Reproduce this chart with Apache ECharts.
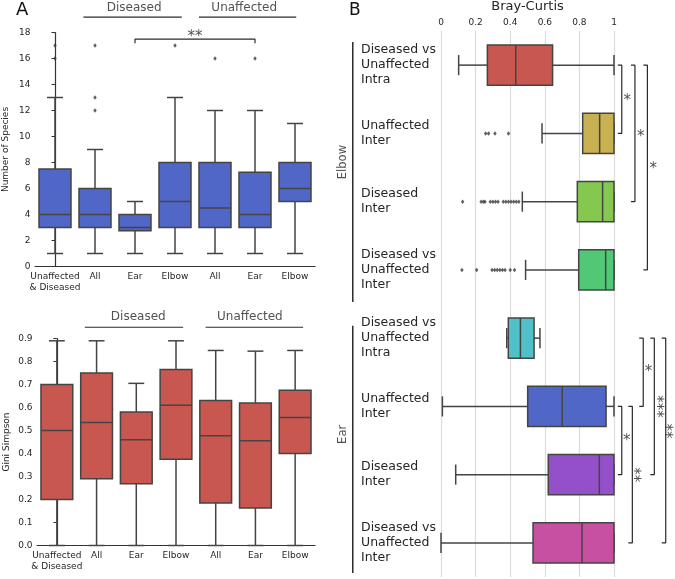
<!DOCTYPE html>
<html><head><meta charset="utf-8">
<script src="https://cdn.jsdelivr.net/npm/echarts@6/dist/echarts.min.js"></script>
<style>html,body{margin:0;padding:0;background:#fff}#c{width:675px;height:579px}</style>
</head><body><div id="c"></div><script>
// ---------------- DATA ----------------
// Panel A (top): Number of Species
const speciesCats = ['Unaffected & Diseased','Diseased All','Diseased Ear','Diseased Elbow','Unaffected All','Unaffected Ear','Unaffected Elbow'];
const tickLabelsA = ['Unaffected\n& Diseased','All','Ear','Elbow','All','Ear','Elbow'];
const speciesMin    = [1, 1, 1,    1, 1,   1,    1];
const speciesQ1     = [3, 3, 2.75, 3, 3,   3,    5];
const speciesMedian = [4, 4, 3,    5, 4.5, 4,    6];
const speciesQ3     = [7.5, 6, 4,  8, 8,   7.25, 8];
const speciesMax    = [13, 9, 5,  13, 12,  12,   11];
const speciesOutliers = [[0,16],[0,17],[1,12],[1,13],[1,17],[3,17],[4,16],[5,16]];

// Panel A (bottom): Gini Simpson
const giniMin    = [0, 0, 0, 0, 0, 0, 0];
const giniQ1     = [0.20, 0.29, 0.268, 0.375, 0.185, 0.163, 0.40];
const giniMedian = [0.50, 0.535, 0.46, 0.61, 0.477, 0.455, 0.557];
const giniQ3     = [0.70, 0.75, 0.58, 0.765, 0.63, 0.62, 0.675];
const giniMax    = [0.89, 0.89, 0.705, 0.89, 0.848, 0.845, 0.848];

// group headers
const groupNames = ['Diseased', 'Unaffected'];
const speciesSig = [{from: 2, to: 5, stars: '**'}];

// Panel B: Bray-Curtis
const brayCats = ['Elbow DvU Intra','Elbow Unaffected Inter','Elbow Diseased Inter','Elbow DvU Inter',
                  'Ear DvU Intra','Ear Unaffected Inter','Ear Diseased Inter','Ear DvU Inter'];
const brayLabels = ['Diseased vs\nUnaffected\nIntra','Unaffected\nInter','Diseased\nInter','Diseased vs\nUnaffected\nInter',
                    'Diseased vs\nUnaffected\nIntra','Unaffected\nInter','Diseased\nInter','Diseased vs\nUnaffected\nInter'];
const brayGroups = ['Elbow', 'Ear'];
const brayMin    = [0.102, 0.584, 0.470, 0.489, 0.380, 0.008, 0.085, 0.0];
const brayQ1     = [0.268, 0.819, 0.788, 0.796, 0.389, 0.501, 0.620, 0.532];
const brayMedian = [0.432, 0.917, 0.934, 0.952, 0.459, 0.701, 0.915, 0.815];
const brayQ3     = [0.645, 1.0,   1.0,   1.0,   0.538, 0.954, 1.0,   1.0];
const brayMax    = [1.0,   1.0,   1.0,   1.0,   0.572, 1.0,   1.0,   1.0];
const brayOutliers = [
  [1,0.258],[1,0.275],[1,0.312],[1,0.39],
  [2,0.125],[2,0.232],[2,0.245],[2,0.254],[2,0.285],[2,0.30],[2,0.315],[2,0.33],[2,0.36],[2,0.375],[2,0.39],[2,0.405],[2,0.42],[2,0.435],[2,0.45],
  [3,0.121],[3,0.206],[3,0.295],[3,0.31],[3,0.325],[3,0.34],[3,0.355],[3,0.37],[3,0.40],[3,0.425]
];
const braySig = [
  {from:0,to:1,stars:'*'},{from:0,to:2,stars:'*'},{from:0,to:3,stars:'*'},
  {from:4,to:5,stars:'*'},{from:5,to:6,stars:'*'},{from:5,to:7,stars:'**'},{from:4,to:6,stars:'***'},{from:4,to:7,stars:'**'}
];

// ---------------- LAYOUT / STYLE ----------------
const FONT = 'DejaVu Sans';
const TXT = '#262626';
const EDGE = '#444444';
const AX = '#333333';
const BLUE = '#5067C8';
const RED = '#C85750';
const BRAY_COLORS = ['#C85750','#C8B150','#85C850','#50C875','#50C1C8','#5067C8','#9350C8','#C850A3'];
const STAR_SIZE = 15;

const headTop = [{from:0.71,to:3.17,c:1.98},{from:3.6,to:6.03,c:4.73}];
const headTopY = {line:19.18, text:19.92};
const headBot = [{from:0.705,to:3.18,c:2.05},{from:3.745,to:6.2,c:4.86}];
const headBotY = {line:0.949, text:0.992};
const sigTopLayout = [{y:17.49, tick:17.18, sy:17.68}];
// panel B annotation layer uses the Bray-Curtis scale extended on both sides
const B_LEFT = 441, B_UNIT = 173, B_EXT_MIN = -0.64, B_EXT_MAX = 1.36;
const braySigLayout = [
  {x:1.045, sx:1.077, sy:0.52, rot:0},
  {x:1.121, sx:1.154, sy:1.06, rot:0},
  {x:1.193, sx:1.227, sy:1.52, rot:0},
  {x:1.169, sx:1.200, sy:4.50, rot:0},
  {x:1.045, sx:1.073, sy:5.51, rot:0},
  {x:1.106, sx:1.160, sy:6.00, rot:90},
  {x:1.233, sx:1.293, sy:5.00, rot:90},
  {x:1.299, sx:1.350, sy:5.36, rot:90}
];
const brayGroupLayout = [{y0:-0.337, y1:3.47, ty:1.42}, {y0:3.82, y1:7.44, ty:5.41}];
const brayGroupX = {line:-0.510, text:-0.564};

// ---------------- BUILD ----------------
const rows = (mn,q1,md,q3,mx) => mn.map((v,i)=>[i, mn[i], q1[i], md[i], q3[i], mx[i]]);
const speciesRows = rows(speciesMin, speciesQ1, speciesMedian, speciesQ3, speciesMax);
const giniRows = rows(giniMin, giniQ1, giniMedian, giniQ3, giniMax);
const brayRows = rows(brayMin, brayQ1, brayMedian, brayQ3, brayMax);

function vBox(fill) {
  return function (params, api) {
    const c = api.value(0);
    const v = [1,2,3,4,5].map(k => api.value(k));
    const bw = api.size([1, 0])[0] * 0.8;
    const x = api.coord([c, v[2]])[0];
    const y = val => api.coord([c, val])[1];
    const h = bw / 2, cap = bw / 4;
    const ls = {stroke: EDGE, lineWidth: 1.5};
    return {type: 'group', children: [
      {type:'line', shape:{x1:x,y1:y(v[0]),x2:x,y2:y(v[1])}, style:ls},
      {type:'line', shape:{x1:x,y1:y(v[3]),x2:x,y2:y(v[4])}, style:ls},
      {type:'line', shape:{x1:x-cap,y1:y(v[0]),x2:x+cap,y2:y(v[0])}, style:ls},
      {type:'line', shape:{x1:x-cap,y1:y(v[4]),x2:x+cap,y2:y(v[4])}, style:ls},
      {type:'rect', shape:{x:x-h,y:y(v[3]),width:bw,height:y(v[1])-y(v[3])}, style:{fill:fill, stroke:EDGE, lineWidth:1.5}},
      {type:'line', shape:{x1:x-h,y1:y(v[2]),x2:x+h,y2:y(v[2])}, style:ls}
    ]};
  };
}
function hBox(params, api) {
  const r = api.value(0);
  const v = [1,2,3,4,5].map(k => api.value(k));
  const bh = api.size([0, 1])[1] * 0.59;
  const yc = api.coord([v[2], r])[1];
  const x = val => api.coord([val, r])[0];
  const h = bh / 2, cap = bh / 4;
  const ls = {stroke: EDGE, lineWidth: 1.5};
  return {type: 'group', children: [
    {type:'line', shape:{x1:x(v[0]),y1:yc,x2:x(v[1]),y2:yc}, style:ls},
    {type:'line', shape:{x1:x(v[3]),y1:yc,x2:x(v[4]),y2:yc}, style:ls},
    {type:'line', shape:{x1:x(v[0]),y1:yc-cap,x2:x(v[0]),y2:yc+cap}, style:ls},
    {type:'line', shape:{x1:x(v[4]),y1:yc-cap,x2:x(v[4]),y2:yc+cap}, style:ls},
    {type:'rect', shape:{x:x(v[1]),y:yc-h,width:x(v[3])-x(v[1]),height:bh}, style:{fill:BRAY_COLORS[r], stroke:EDGE, lineWidth:1.5}},
    {type:'line', shape:{x1:x(v[2]),y1:yc-h,x2:x(v[2]),y2:yc+h}, style:ls}
  ]};
}
function lineS(xi, yi, pts, w) {
  return {type:'line', xAxisIndex:xi, yAxisIndex:yi, data:pts, symbol:'none', clip:false, silent:true,
    lineStyle:{color:'#2a2a2a', width:w||1.2}, z:5};
}
function textS(xi, yi, items) {
  return {type:'scatter', xAxisIndex:xi, yAxisIndex:yi, clip:false, silent:true, symbol:'rect', symbolSize:1,
    itemStyle:{color:'transparent'}, z:6,
    data: items.map(it => ({value: it.pos, label:{show:true, position:'inside', formatter: it.text,
      fontSize: it.size, rotate: it.rot || 0, color: TXT, fontFamily: FONT}}))};
}
const outS = (xi, yi, data) => ({type:'scatter', xAxisIndex:xi, yAxisIndex:yi, data:data, symbol:'diamond',
  symbolSize:[3.5,4.5], itemStyle:{color:'#3a3a3a'}, z:4, silent:true});

const series = [];
// Panel A top
series.push({type:'custom', xAxisIndex:0, yAxisIndex:0, data:speciesRows, encode:{x:0, y:[1,2,3,4,5]}, renderItem:vBox(BLUE)});
series.push(outS(0, 0, speciesOutliers));
headTop.forEach((g,i) => {
  series.push(lineS(1, 0, [[g.from, headTopY.line],[g.to, headTopY.line]], 1.2));
});
series.push(textS(1, 0, headTop.map((g,i)=>({pos:[g.c, headTopY.text], text:groupNames[i], size:12}))));
speciesSig.forEach((s,i) => {
  const L = sigTopLayout[i];
  series.push(lineS(1, 0, [[s.from, L.tick],[s.from, L.y],[s.to, L.y],[s.to, L.tick]], 1.2));
  series.push(textS(1, 0, [{pos:[(s.from+s.to)/2, L.sy], text:s.stars, size:STAR_SIZE}]));
});
// Panel A bottom
series.push({type:'custom', xAxisIndex:2, yAxisIndex:1, data:giniRows, encode:{x:0, y:[1,2,3,4,5]}, renderItem:vBox(RED)});
headBot.forEach((g,i) => {
  series.push(lineS(3, 1, [[g.from, headBotY.line],[g.to, headBotY.line]], 1.2));
});
series.push(textS(3, 1, headBot.map((g,i)=>({pos:[g.c, headBotY.text], text:groupNames[i], size:12}))));
// Panel B
series.push({type:'custom', xAxisIndex:4, yAxisIndex:2, data:brayRows, encode:{y:0, x:[1,2,3,4,5]}, renderItem:hBox});
series.push(outS(4, 2, brayOutliers.map(d => [d[1], d[0]])));
braySig.forEach((s,i) => {
  const L = braySigLayout[i];
  const t = L.x - 0.023;
  series.push(lineS(5, 3, [[t, s.from],[L.x, s.from],[L.x, s.to],[t, s.to]], 1.2));
});
series.push(textS(5, 3, braySig.map((s,i)=>({pos:[braySigLayout[i].sx, braySigLayout[i].sy], text:s.stars, size:STAR_SIZE, rot:braySigLayout[i].rot}))));
brayGroupLayout.forEach((g,i) => {
  series.push(lineS(5, 3, [[brayGroupX.line, g.y0],[brayGroupX.line, g.y1]], 1.5));
});
series.push(textS(5, 3, brayGroupLayout.map((g,i)=>({pos:[brayGroupX.text, g.ty], text:brayGroups[i], size:11.5, rot:90}))));

const labelA = {fontFamily:FONT, fontSize:9, color:TXT};
const option = {
  animation: false,
  backgroundColor: '#fff',
  textStyle: {fontFamily: FONT},
  grid: [
    {left:35, top:32.5, width:280, height:234, outerBoundsMode:'none'},
    {left:37, top:338.5, width:278, height:207, outerBoundsMode:'none'},
    {left:B_LEFT, top:31, width:B_UNIT, height:546, outerBoundsMode:'none'},
    {left:B_LEFT + B_EXT_MIN * B_UNIT, top:31, width:(B_EXT_MAX - B_EXT_MIN) * B_UNIT, height:546, outerBoundsMode:'none'}
  ],
  xAxis: [
    {type:'category', gridIndex:0, data:speciesCats,
      axisLine:{lineStyle:{color:AX, width:1.2}}, axisTick:{show:false},
      axisLabel:Object.assign({interval:0, margin:5, lineHeight:10.7, formatter:(v,i)=>tickLabelsA[i]}, labelA)},
    {type:'value', gridIndex:0, min:-0.5, max:6.5, show:false},
    {type:'category', gridIndex:1, data:speciesCats,
      axisLine:{lineStyle:{color:AX, width:1.2}}, axisTick:{show:false},
      axisLabel:Object.assign({interval:0, margin:5, lineHeight:10.7, formatter:(v,i)=>tickLabelsA[i]}, labelA)},
    {type:'value', gridIndex:1, min:-0.5, max:6.5, show:false},
    {type:'value', gridIndex:2, position:'top', min:0, max:1, interval:0.2,
      name:'Bray-Curtis', nameLocation:'middle', nameGap:17,
      nameTextStyle:{fontFamily:FONT, fontSize:13, color:TXT},
      axisLine:{show:false}, axisTick:{show:false},
      axisLabel:{fontFamily:FONT, fontSize:9, color:TXT, margin:4},
      splitLine:{show:true, lineStyle:{color:'#dddddd', width:1.3}}},
    {type:'value', gridIndex:3, min:B_EXT_MIN, max:B_EXT_MAX, show:false}
  ],
  yAxis: [
    {type:'value', gridIndex:0, min:0, max:18, interval:2,
      name:'Number of Species', nameLocation:'middle', nameGap:24.5,
      nameTextStyle:{fontFamily:FONT, fontSize:9, color:TXT},
      axisLine:{show:true, lineStyle:{color:AX, width:1.2}},
      axisTick:{show:true, length:3.5, lineStyle:{color:AX}},
      axisLabel:Object.assign({margin:4.5}, labelA), splitLine:{show:false}},
    {type:'value', gridIndex:1, min:0, max:0.9, interval:0.1,
      name:'Gini Simpson', nameLocation:'middle', nameGap:26,
      nameTextStyle:{fontFamily:FONT, fontSize:9, color:TXT},
      axisLine:{show:true, lineStyle:{color:AX, width:1.2}},
      axisTick:{show:true, length:3.5, lineStyle:{color:AX}},
      axisLabel:Object.assign({margin:4.5, formatter:v=>v.toFixed(1)}, labelA), splitLine:{show:false}},
    {type:'category', gridIndex:2, data:brayCats, inverse:true,
      axisLine:{show:false}, axisTick:{show:false},
      axisLabel:{interval:0, align:'left', margin:80, fontFamily:FONT, fontSize:12.5, lineHeight:15, color:TXT,
        formatter:(v,i)=>brayLabels[i]}},
    {type:'value', gridIndex:3, min:-0.5, max:7.5, inverse:true, show:false}
  ],
  graphic: [
    {type:'text', left:16, top:1, style:{text:'A', fontFamily:FONT, fontSize:18, fill:'#111'}},
    {type:'text', left:349, top:2, style:{text:'B', fontFamily:FONT, fontSize:17, fill:'#111'}}
  ],
  series: series
};
const chart = echarts.init(document.getElementById('c'));
chart.setOption(option);
</script></body></html>
